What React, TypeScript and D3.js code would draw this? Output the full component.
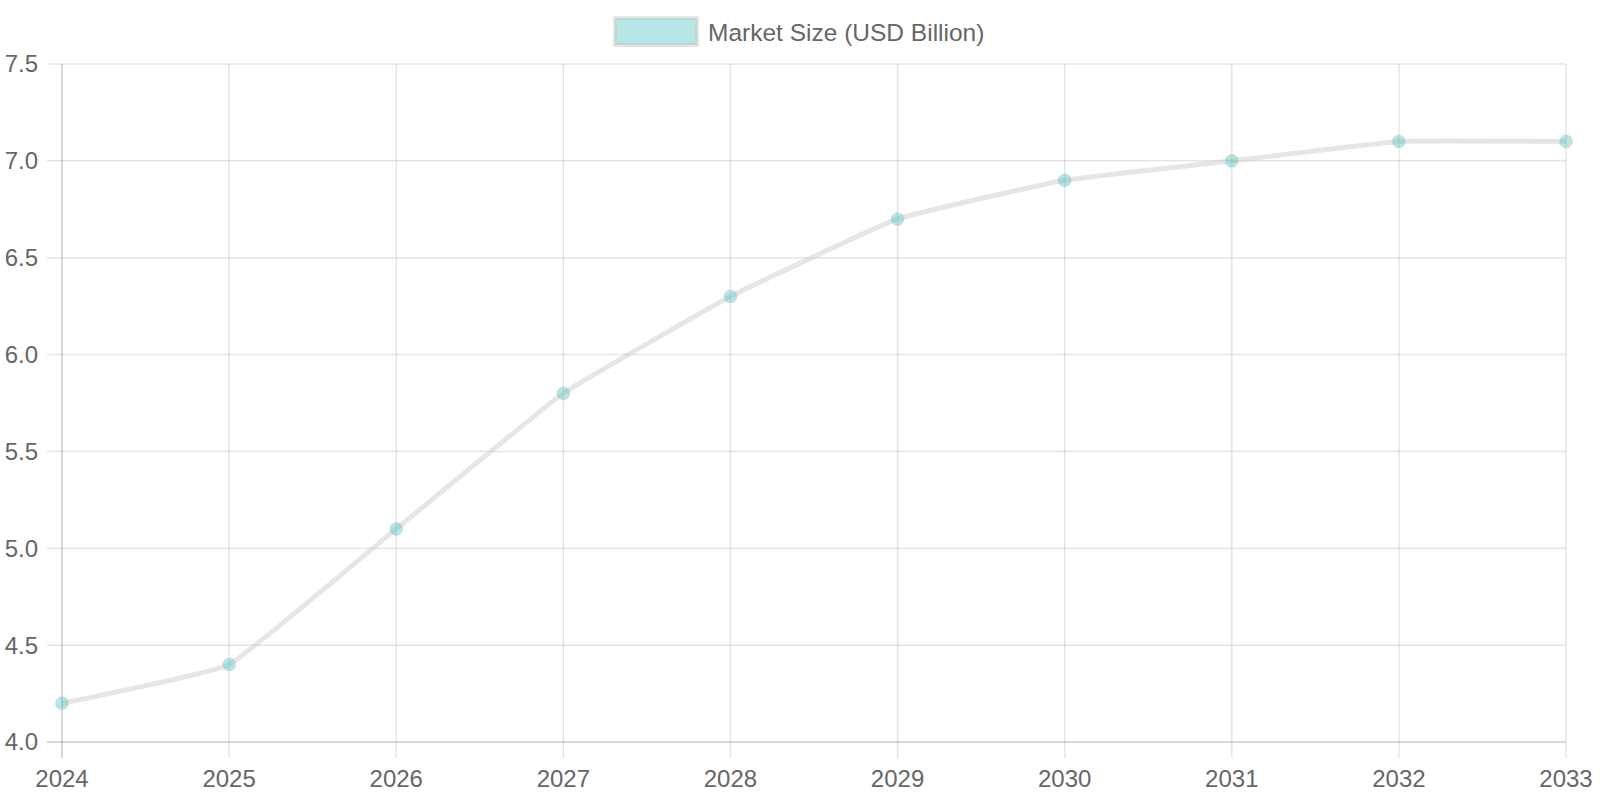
import React from 'react';
import * as d3 from 'd3';

const years = ['2024', '2025', '2026', '2027', '2028', '2029', '2030', '2031', '2032', '2033'];
const marketSize = [4.2, 4.4, 5.1, 5.8, 6.3, 6.7, 6.9, 7.0, 7.1, 7.1];
const yTicks = [4.0, 4.5, 5.0, 5.5, 6.0, 6.5, 7.0, 7.5];
const seriesLabel = 'Market Size (USD Billion)';

const width = 1600;
const height = 800;
const margin = { top: 64, right: 34, bottom: 58, left: 62 };
const font = '"Liberation Sans", Arial, sans-serif';
const textColor = '#666';
const gridColor = 'rgba(0,0,0,0.1)';
const lineColor = 'rgba(200,200,200,0.45)';
const pointFill = 'rgba(75,192,192,0.4)';

export default function App() {
  const innerWidth = width - margin.left - margin.right;
  const innerHeight = height - margin.top - margin.bottom;

  const x = d3.scalePoint<string>().domain(years).range([0, innerWidth]);
  const y = d3.scaleLinear().domain([4, 7.5]).range([innerHeight, 0]);

  const points = years.map((yr, i) => ({ yr, v: marketSize[i] }));
  // light smoothing, close to a straight polyline
  const line = d3
    .line<{ yr: string; v: number }>()
    .x(d => x(d.yr) as number)
    .y(d => y(d.v))
    .curve(d3.curveCardinal.tension(0.7));

  return (
    <svg
      width={width}
      height={height}
      style={{ position: 'absolute', left: 0, top: 0, background: '#fff' }}
      fontFamily={font}
    >
      {/* legend */}
      <g>
        <rect x={615} y={18} width={82} height={27} fill={pointFill} stroke={lineColor} strokeWidth={4} />
        <text x={708} y={32} dy="0.35em" fontSize={24.5} fill={textColor}>
          {seriesLabel}
        </text>
      </g>

      <g transform={`translate(${margin.left},${margin.top})`}>
        {/* horizontal grid + y labels */}
        {yTicks.map(t => (
          <g key={t} transform={`translate(0,${y(t)})`}>
            <line x1={-15} x2={innerWidth} stroke={t === 4 ? 'rgba(0,0,0,0.2)' : gridColor} strokeWidth={1.5} />
            <text x={-24} dy="0.35em" textAnchor="end" fontSize={24} fill={textColor}>
              {t.toFixed(1)}
            </text>
          </g>
        ))}

        {/* vertical grid + x labels */}
        {years.map((yr, i) => (
          <g key={yr} transform={`translate(${x(yr)},0)`}>
            <line y1={0} y2={innerHeight + 16} stroke={i === 0 ? 'rgba(0,0,0,0.2)' : gridColor} strokeWidth={1.5} />
            <text y={innerHeight + 37} dy="0.35em" textAnchor="middle" fontSize={24} fill={textColor}>
              {yr}
            </text>
          </g>
        ))}

        <path d={line(points) ?? ''} fill="none" stroke={lineColor} strokeWidth={5} strokeLinejoin="round" />

        {points.map(p => (
          <circle
            key={p.yr}
            cx={x(p.yr)}
            cy={y(p.v)}
            r={6.5}
            fill={pointFill}
            stroke="rgba(200,200,200,0.45)"
            strokeWidth={1}
          />
        ))}
      </g>
    </svg>
  );
}
